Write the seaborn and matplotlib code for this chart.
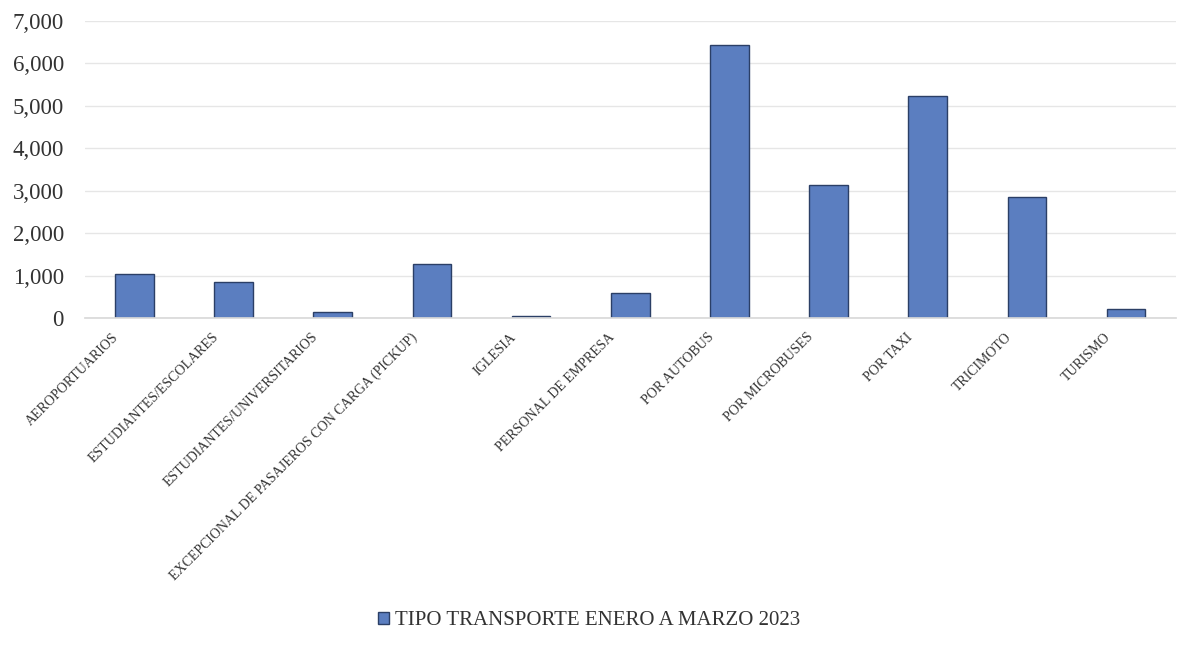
import matplotlib
matplotlib.use("Agg")
import matplotlib.pyplot as plt
import matplotlib.transforms as mtransforms
import seaborn as sns
import pandas as pd
from matplotlib.ticker import FuncFormatter, MultipleLocator
from matplotlib.patches import Patch

categories = ["AEROPORTUARIOS", "ESTUDIANTES/ESCOLARES", "ESTUDIANTES/UNIVERSITARIOS",
              "EXCEPCIONAL DE PASAJEROS CON CARGA (PICKUP)", "IGLESIA", "PERSONAL DE EMPRESA",
              "POR AUTOBUS", "POR MICROBUSES", "POR TAXI", "TRICIMOTO", "TURISMO"]
values = [1040, 860, 130, 1280, 50, 580, 6430, 3140, 5230, 2850, 220]
series_name = "TIPO TRANSPORTE ENERO A MARZO 2023"

sns.set_theme(style="white")
plt.rcParams['font.family'] = ['Liberation Serif', 'DejaVu Serif']

df = pd.DataFrame({"cat": categories, "val": values})

fig = plt.figure(figsize=(11.78, 6.57), dpi=100)
ax = fig.add_axes([0.072, 0.516, 0.926, 0.452])
bar_color = "#5B7EC0"
sns.barplot(data=df, x="cat", y="val", color=bar_color, width=0.39,
            edgecolor="#2B3F66", linewidth=1.0, saturation=1, ax=ax)

ax.set_ylim(0, 7000)
ax.set_xlim(-0.5, len(categories) - 0.5)
ax.yaxis.set_major_locator(MultipleLocator(1000))
ax.yaxis.set_major_formatter(FuncFormatter(lambda v, p: f"{int(v):,}"))
ax.grid(axis="y", color="#E6E6E6", linewidth=1.0)
ax.set_axisbelow(True)
for s in ["top", "right", "left"]:
    ax.spines[s].set_visible(False)
ax.spines["bottom"].set_color("#D9D9D9")
ax.set_xlabel("")
ax.set_ylabel("")
ax.tick_params(axis="y", labelsize=16.5, colors="#333333", length=0, pad=15)
ax.tick_params(axis="x", length=0, pad=9)
ax.set_xticks(range(len(categories)))
labels = ax.set_xticklabels(categories, rotation=45, ha="right", rotation_mode="anchor",
                            fontsize=10, color="#333333")
offset = mtransforms.ScaledTranslation(-0.22, 0, fig.dpi_scale_trans)
for lab in labels:
    lab.set_transform(lab.get_transform() + offset)

handle = Patch(facecolor=bar_color, edgecolor="#2B3F66", label=series_name)
fig.legend(handles=[handle], loc="center", bbox_to_anchor=(0.5, 0.055), frameon=False,
           fontsize=15, handlelength=0.55, handleheight=0.55, handletextpad=0.3,
           labelcolor="#333333")

fig.savefig("out.png", dpi=100)
